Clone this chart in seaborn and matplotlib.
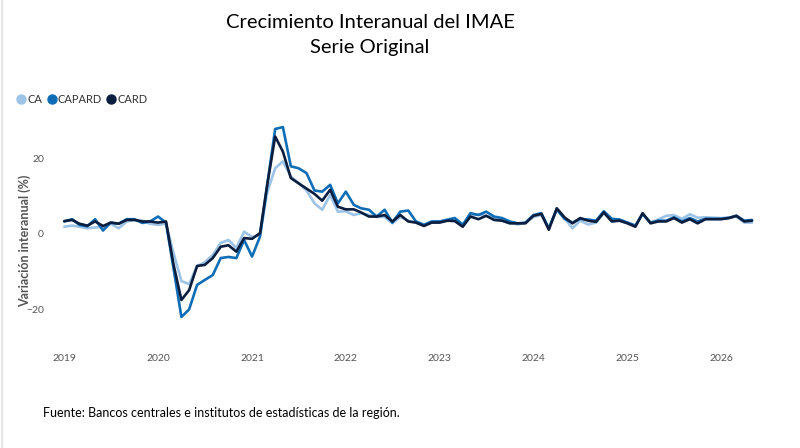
import pandas as pd
import numpy as np
import matplotlib
matplotlib.use('Agg')
import matplotlib.pyplot as plt
import matplotlib.dates as mdates
from matplotlib.lines import Line2D
import seaborn as sns

# meses: enero 2019 a mayo 2026
fechas = pd.date_range('2019-01-01', '2026-05-01', freq='MS')

ca = [1.9, 2.2, 1.9, 1.5, 1.7, 1.9, 2.7, 1.5, 3.3, 3.7, 3.5, 2.7,
      2.4, 2.7, -5.0, -12.5, -13.3, -8.5, -7.5, -5.6, -2.4, -1.6, -3.7, 0.6,
      -0.8, -0.3, 11.0, 17.4, 19.2, 15.2, 13.5, 11.5, 8.1, 6.4, 10.3, 5.9,
      6.0, 5.0, 5.5, 5.0, 4.5, 4.5, 2.8, 4.5, 3.5, 3.0, 2.3, 3.0,
      3.3, 3.9, 4.2, 2.5, 4.8, 5.2, 4.8, 4.2, 3.5, 3.0, 2.5, 3.0,
      4.5, 5.0, 1.5, 6.5, 4.2, 1.5, 3.5, 2.5, 3.0, 5.5, 3.5, 3.8,
      3.0, 2.2, 5.2, 3.0, 3.8, 4.8, 5.0, 4.0, 5.2, 4.3, 4.4, 4.3,
      4.2, 4.3, 4.6, 3.0, 3.0]

capard = [3.3, 3.9, 2.4, 2.0, 3.9, 0.9, 3.0, 2.7, 3.9, 3.9, 2.9, 3.3,
          4.6, 3.0, -9.0, -22.0, -20.0, -13.5, -12.2, -10.9, -6.4, -6.1, -6.4, -1.6,
          -6.0, -0.7, 13.0, 27.8, 28.3, 17.9, 17.4, 16.1, 11.5, 11.2, 13.0, 8.1,
          11.2, 7.7, 6.8, 6.4, 4.6, 6.4, 3.0, 5.9, 6.2, 3.3, 2.4, 3.3,
          3.3, 3.7, 4.2, 2.4, 5.5, 5.0, 5.9, 4.6, 4.2, 3.3, 2.8, 3.0,
          5.0, 5.5, 1.5, 6.5, 4.0, 3.0, 4.0, 3.8, 3.5, 6.0, 4.0, 3.8,
          3.0, 2.2, 5.3, 3.0, 3.5, 3.5, 4.4, 3.3, 4.2, 3.3, 4.0, 4.0,
          4.0, 4.3, 4.8, 3.5, 3.7]

card = [3.4, 3.7, 2.7, 2.2, 3.3, 2.1, 3.0, 2.7, 3.7, 3.7, 3.3, 3.3,
        3.0, 3.3, -8.0, -17.5, -14.9, -8.5, -8.2, -6.4, -3.4, -3.0, -4.7, -1.1,
        -1.3, 0.2, 13.0, 25.8, 21.8, 14.8, 13.4, 12.0, 10.6, 8.8, 11.7, 7.2,
        6.5, 6.5, 5.7, 4.6, 4.6, 5.0, 3.3, 5.0, 3.3, 3.0, 2.1, 3.0,
        3.0, 3.5, 3.4, 1.9, 4.6, 3.9, 4.8, 3.7, 3.5, 2.8, 2.8, 2.8,
        4.8, 5.3, 1.1, 6.8, 4.4, 2.8, 4.2, 3.5, 3.2, 5.7, 3.3, 3.5,
        2.8, 1.9, 5.5, 2.8, 3.3, 3.3, 4.2, 3.0, 3.9, 2.8, 3.9, 3.9,
        3.9, 4.2, 4.8, 3.3, 3.5]

series = ['CA', 'CAPARD', 'CARD']
colores = {'CA': '#9DC3E6', 'CAPARD': '#0F6DB5', 'CARD': '#0B1E3F'}

df = pd.DataFrame({'fecha': fechas, 'CA': ca, 'CAPARD': capard, 'CARD': card})
largo = df.melt(id_vars='fecha', var_name='serie', value_name='valor')

sns.set_style('white')
plt.rcParams['font.family'] = ['Lato', 'DejaVu Sans']

fig = plt.figure(figsize=(8, 4.48), dpi=100)
ax = fig.add_axes([55 / 800, (448 - 340) / 448, 705 / 800, 225 / 448])

sns.lineplot(data=largo, x='fecha', y='valor', hue='serie', hue_order=series,
             palette=colores, linewidth=1.9, legend=False, ax=ax)

ax.set_xlim(pd.Timestamp('2018-11-26'), pd.Timestamp('2026-06-01'))
ax.set_ylim(-28.1, 31.5)
ax.set_yticks([-20, 0, 20])
ax.xaxis.set_major_locator(mdates.YearLocator())
ax.xaxis.set_major_formatter(mdates.DateFormatter('%Y'))
ax.tick_params(axis='both', labelsize=7.5, labelcolor='#555555', length=0, pad=8)
ax.tick_params(axis='x', pad=10)
for s in ax.spines.values():
    s.set_visible(False)
ax.set_xlabel('')
ax.set_ylabel('Variación interanual (%)', fontsize=9, color='#555555',
              fontweight='bold')
ax.yaxis.set_label_coords(-0.034, 0.44)

handles = [Line2D([], [], marker='o', linestyle='', markersize=6.5,
                  color=colores[s]) for s in series]
fig.legend(handles, series, loc='upper left', bbox_to_anchor=(0.016, 0.8),
           ncol=3, frameon=False, fontsize=8, handlelength=0.7,
           handletextpad=0.2, columnspacing=0.5, borderaxespad=0,
           labelcolor='#333333')

fig.text(370 / 800, 1 - 22 / 448, 'Crecimiento Interanual del IMAE', ha='center',
         va='center', fontsize=14.5, color='black')
fig.text(370 / 800, 1 - 48 / 448, 'Serie Original', ha='center', va='center',
         fontsize=14.5, color='black')
fig.text(43 / 800, 1 - 413 / 448,
         'Fuente: Bancos centrales e institutos de estadísticas de la región.',
         ha='left', va='center', fontsize=9, color='black')

fig.add_artist(Line2D([0.002, 0.002], [0, 1], color='#E6E6E6', linewidth=1.5))

fig.savefig('out.png', dpi=100)
